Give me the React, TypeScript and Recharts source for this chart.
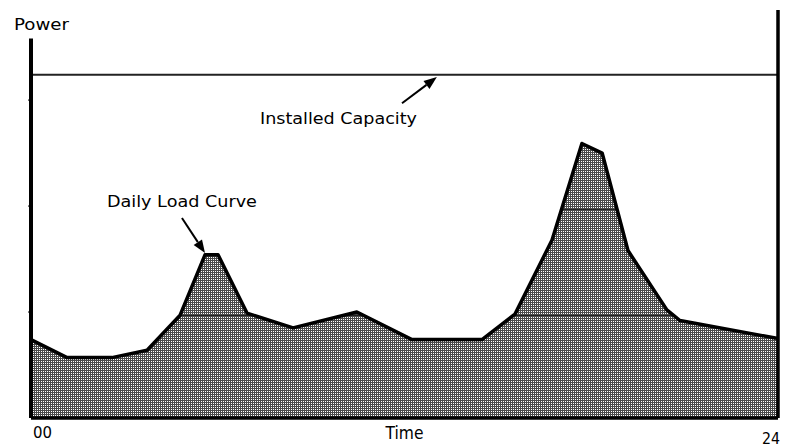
import React from "react";
import {
  ComposedChart,
  Area,
  XAxis,
  YAxis,
  ReferenceLine,
} from "recharts";

// hour of day and load (power units, ticks at 100/200/300)
const HOURS = [
  0, 1.16, 2.6, 3.73, 4.79, 5.59, 6.01, 6.94, 8.42, 10.47, 12.24, 14.49, 15.55,
  16.74, 17.7, 18.35, 19.18, 20.43, 20.85, 24,
];
const LOAD = [
  74, 57, 57, 64, 97, 154, 154, 99, 85, 100, 74, 74, 98, 168, 259, 250, 158,
  102, 92, 75,
];
const CAPACITY = 324;
const X_TICKS = [0, 24];
const X_TICK_LABELS = ["00", "24"];
const Y_TICKS = [100, 200, 300];

const data = HOURS.map((h, i) => ({ hour: h, load: LOAD[i] }));

const FONT = "DejaVu Sans";

// arrow annotation: line from label to tip with a filled head
function arrowShape(text: string, dx: number, dy: number, len: number) {
  return (p: any) => {
    const { x1, y1, x2, y2 } = p;
    const ang = Math.atan2(y2 - y1, x2 - x1);
    const hl = 13;
    const hw = 5;
    const bx = x2 - hl * Math.cos(ang);
    const by = y2 - hl * Math.sin(ang);
    const nx = -Math.sin(ang) * hw;
    const ny = Math.cos(ang) * hw;
    return (
      <g>
        <line x1={x1} y1={y1} x2={bx} y2={by} stroke="#000" strokeWidth={2} />
        <polygon
          points={`${x2},${y2} ${bx + nx},${by + ny} ${bx - nx},${by - ny}`}
          fill="#000"
        />
        <text
          x={x1 + dx}
          y={y1 + dy}
          fontFamily={FONT}
          fontSize={16}
          textLength={len}
          lengthAdjust="spacingAndGlyphs"
          fill="#000"
        >
          {text}
        </text>
      </g>
    );
  };
}

// tick text placed from the axis line (418), not the offset tick y
function HourTick(props: any) {
  const { x, payload } = props;
  const idx = X_TICKS.indexOf(payload.value);
  const first = idx === 0;
  return (
    <text
      x={first ? x + 2 : x + 3}
      y={first ? 438 : 444}
      textAnchor={first ? "start" : "end"}
      fontFamily={FONT}
      fontSize={16}
      textLength={first ? 19 : 18}
      lengthAdjust="spacingAndGlyphs"
      fill="#000"
    >
      {X_TICK_LABELS[idx]}
    </text>
  );
}

export default function App() {
  return (
    <div
      style={{
        position: "absolute",
        left: 0,
        top: 0,
        width: 785,
        height: 447,
        background: "#fff",
      }}
    >
      <ComposedChart
        width={785}
        height={447}
        data={data}
        margin={{ top: 10, right: 7, bottom: 0, left: 0 }}
      >
        <defs>
          <pattern
            id="dots"
            patternUnits="userSpaceOnUse"
            x={0}
            y={0}
            width={2}
            height={2}
          >
            <rect width={2} height={2} fill="#4a4a4a" />
            <rect x={1} y={1} width={1} height={1} fill="#fff" />
          </pattern>
          <pattern
            id="rules"
            patternUnits="userSpaceOnUse"
            x={0}
            y={103}
            width={10}
            height={106}
          >
            <rect width={10} height={1} fill="#222" />
          </pattern>
        </defs>
        <XAxis
          dataKey="hour"
          type="number"
          domain={[0, 24]}
          ticks={X_TICKS}
          height={29}
          tickLine={false}
          tick={<HourTick />}
          axisLine={{ stroke: "#000", strokeWidth: 3.5 }}
          label={{
            content: (p: any) => {
              const vb = p.viewBox;
              return (
                <text
                  x={vb.x + vb.width / 2}
                  y={vb.y + 21}
                  textAnchor="middle"
                  fontFamily={FONT}
                  fontSize={17}
                  textLength={38}
                  lengthAdjust="spacingAndGlyphs"
                  fill="#000"
                >
                  Time
                </text>
              );
            },
          }}
        />
        <YAxis
          type="number"
          domain={[0, 385]}
          ticks={Y_TICKS}
          width={31}
          axisLine={false}
          tickSize={3}
          tickLine={{ stroke: "#000" }}
          tick={() => <g />}
          label={{
            content: (p: any) => {
              const vb = p.viewBox;
              return (
                <text
                  x={14}
                  y={vb.y + 20}
                  fontFamily={FONT}
                  fontSize={16}
                  textLength={55}
                  lengthAdjust="spacingAndGlyphs"
                  fill="#000"
                >
                  Power
                </text>
              );
            },
          }}
        />
        <Area
          type="linear"
          dataKey="load"
          fill="url(#dots)"
          fillOpacity={1}
          stroke="none"
          isAnimationActive={false}
        />
        <Area
          type="linear"
          dataKey="load"
          fill="url(#rules)"
          fillOpacity={1}
          stroke="#000"
          strokeWidth={3.5}
          strokeLinejoin="round"
          isAnimationActive={false}
        />
        <ReferenceLine y={CAPACITY} stroke="#222" strokeWidth={2} />
        <ReferenceLine
          segment={[
            { x: 0, y: 0 },
            { x: 0, y: 358 },
          ]}
          stroke="#000"
          strokeWidth={4}
        />
        <ReferenceLine x={24} stroke="#000" strokeWidth={3.5} />
        <ReferenceLine
          segment={[
            { x: 11.92, y: 297 },
            { x: 13.04, y: 321.7 },
          ]}
          shape={arrowShape("Installed Capacity", -142, 21, 157)}
        />
        <ReferenceLine
          segment={[
            { x: 4.85, y: 188.7 },
            { x: 5.59, y: 155.7 },
          ]}
          shape={arrowShape("Daily Load Curve", -75, -11, 150)}
        />
      </ComposedChart>
    </div>
  );
}
